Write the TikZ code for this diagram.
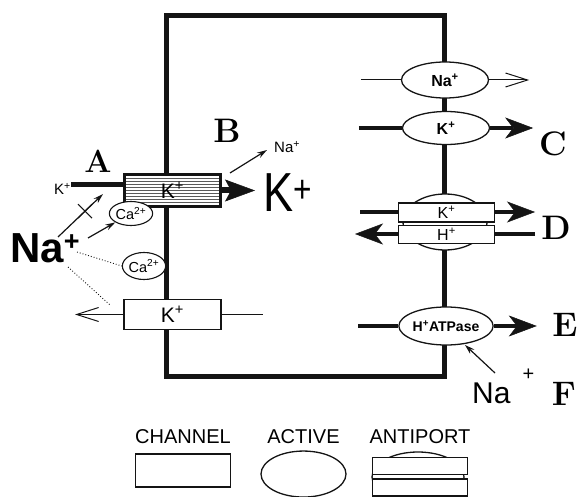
\documentclass[tikz,border=0pt]{standalone}
\usepackage{fontspec}
\setsansfont{Liberation Sans}
\usepackage{xcolor}
\usepackage{tikz}
\usetikzlibrary{arrows.meta,positioning,shapes.geometric,shapes.misc,patterns,calc}
\definecolor{mInk}{RGB}{20,20,20}
\definecolor{mHatch}{RGB}{90,90,90}
\newcommand{\fsz}[1]{\fontsize{#1}{#1}\selectfont}
\tikzset{
cellwall/.style={line width=5pt,draw=mInk},
chanbox/.style={rectangle,draw=mInk,line width=1.2pt,fill=white,inner sep=0pt,minimum width=97pt,minimum height=30pt,font=\sffamily\fsz{21}},
hatchbox/.style={chanbox,line width=3pt,minimum width=96pt,minimum height=32pt,preaction={fill=white},pattern=horizontal lines,pattern color=mHatch},
pumpell/.style={ellipse,draw=mInk,line width=1.3pt,fill=white,inner sep=0pt,minimum width=87pt,minimum height=35pt,font=\sffamily\bfseries\fsz{16}},
caell/.style={ellipse,draw=mInk,line width=1.1pt,fill=white,inner sep=0pt,minimum width=41pt,minimum height=24pt,font=\sffamily\fsz{14.5}},
antibox/.style={rectangle,draw=mInk,line width=1.1pt,fill=white,inner sep=0pt,minimum width=96pt,minimum height=18pt,font=\sffamily\fsz{16}},
flow/.style={line width=4.5pt,draw=mInk},
flux/.style={flow,-{Stealth[length=28pt,width=21pt,inset=8pt,line width=0.5pt]}},
bigflux/.style={line width=6pt,draw=mInk,-{Stealth[length=30pt,width=22pt,inset=6pt,line width=0.5pt]}},
thinflow/.style={line width=1pt,draw=mInk},
leak/.style={thinflow,-{Straight Barb[length=22pt,width=14pt]}},
nudge/.style={line width=1.2pt,draw=mInk,-{Stealth[length=10pt,width=6pt]}},
hint/.style={line width=0.9pt,dotted,draw=mInk},
letter/.style={font=\bfseries\fsz{34},inner sep=0pt,anchor=base},
ionlabel/.style={font=\sffamily,inner sep=0pt},
legendtext/.style={font=\sffamily\fsz{20},inner sep=0pt,anchor=base},
blockmark/.style={cross out,draw=mInk,line width=1pt,minimum size=13pt,inner sep=0pt}
}
\begin{document}
\begin{tikzpicture}[x=1pt,y=-1pt]
\useasboundingbox (0,0) rectangle (584,497);
% cell
\draw[cellwall] (166,15.5) rectangle (444.5,376);
% left side channels
\node[hatchbox] (chanA) at (172.5,190.5) {K\textsuperscript{+}};
\node[chanbox] (chanB) at (172.5,314.5) {K\textsuperscript{+}};
\node[caell] (caA) at (131,213.5) {Ca\textsuperscript{2+}};
\node[caell,minimum height=27pt] (caB) at (144,266) {Ca\textsuperscript{2+}};
\node[ionlabel,font=\sffamily\fsz{15},anchor=base west] (kA) at (54,195) {K\textsuperscript{+}};
\node[ionlabel,font=\sffamily\fsz{55},anchor=base west] (bigK) at (263,212) {\scalebox{0.82}[1]{K\textsuperscript{+}}};
\node[ionlabel,font=\sffamily\fsz{15},anchor=base west] (naB) at (274,153) {Na\textsuperscript{+}};
\node[ionlabel,font=\sffamily\bfseries\fsz{42},anchor=base west] (naA) at (10,262) {Na\raisebox{12pt}{\fsz{27}+}};
\node[letter,font=\bfseries\fsz{32}] at (98,173) {A};
\node[letter] at (227,143) {B};
\coordinate (naBtip) at (267,150);
\coordinate (xfrom) at (58,237);
\coordinate (xto) at (103,194);
\coordinate (caFrom) at (88,238);
\coordinate (dotFromA) at (77,252);
\coordinate (dotFromB) at (68,267);
\coordinate (dotTo) at (110,305);
\coordinate (kOutB) at (75,314.5);
\coordinate (kInB) at (263,314.5);
\draw[flow] ([yshift=5pt]kA.east) -- ([yshift=5pt]kA.east -| chanA.west);
\draw[bigflux] (chanA.east) -- ([xshift=-8pt]bigK.west |- chanA.east);
\draw[nudge] ([xshift=8pt]chanA.north east) -- (naBtip);
\draw[nudge] (xfrom) -- (xto);
\node[blockmark] at ($(xfrom)!0.6!(xto)$) {};
\draw[nudge] (caFrom) -- (caA.south west);
\draw[hint] (dotFromA) -- (caB.west);
\draw[hint] (dotFromB) -- (dotTo);
\draw[leak] (chanB.west) -- (kOutB);
\draw[thinflow] (chanB.east) -- (kInB);
% right side pumps
\node[pumpell,minimum height=36pt] (pumpNa) at (445,80) {Na\textsuperscript{+}};
\node[pumpell,minimum height=33pt] (pumpK) at (446,128) {K\textsuperscript{+}};
\node[pumpell,minimum width=84pt,minimum height=56pt] (antiD) at (445,222) {};
\node[antibox,minimum height=19pt] (antiK) at (446.5,212.5) {K\textsuperscript{+}};
\node[antibox,below=2pt of antiK] (antiH) {H\textsuperscript{+}};
\node[pumpell,minimum width=88pt,minimum height=38pt,font=\sffamily\bfseries\fsz{14}] (pumpH) at (446,326) {H\textsuperscript{+}ATPase};
\coordinate[left=40pt of pumpNa.west] (naPin);
\coordinate[right=40pt of pumpNa.east] (naPout);
\coordinate[left=43pt of pumpK.west] (kPin);
\coordinate[right=43pt of pumpK.east] (kPout);
\coordinate (dKin) at (360,212);
\coordinate (dKout) at (535,212);
\coordinate (dHout) at (355,234);
\coordinate (dHin) at (535,234);
\coordinate[left=40pt of pumpH.west] (hPin);
\coordinate[right=43pt of pumpH.east] (hPout);
\coordinate (naFfrom) at (495,373);
\draw[thinflow] (naPin) -- (pumpNa.west);
\draw[leak] (pumpNa.east) -- (naPout);
\draw[flow] (kPin) -- (pumpK.west);
\draw[flux] (pumpK.east) -- (kPout);
\draw[flow] (dKin) -- (antiK.west |- dKin);
\draw[flux] (antiK.east |- dKin) -- (dKout);
\draw[flux] (antiH.west |- dHout) -- (dHout);
\draw[flow] (dHin) -- (antiH.east |- dHin);
\draw[flow] (hPin) -- (pumpH.west);
\draw[flux] (pumpH.east) -- (hPout);
\node[ionlabel,font=\sffamily\fsz{30},anchor=base west] (naF) at (472,403) {Na\hspace{12pt}\raisebox{23pt}{\fsz{20}+}};
\draw[nudge,shorten >=1pt] (naFfrom) -- (pumpH.-45);
\node[letter] at (553,156) {C};
\node[letter] at (556,240) {D};
\node[letter] at (565,337) {E};
\node[letter] at (564,405) {F};
% legend
\node[legendtext] (legChan) at (183,443) {CHANNEL};
\node[legendtext] (legAct) at (303.5,443) {ACTIVE};
\node[legendtext] (legAnti) at (420,443) {ANTIPORT};
\node[chanbox,minimum width=95pt,minimum height=33pt,below=10pt of legChan] (keyChan) {};
\node[pumpell,minimum width=85pt,minimum height=46pt,below=7pt of legAct] (keyAct) {};
\node[pumpell,minimum width=92pt,minimum height=50pt] (keyAntiE) at (418,477) {};
\node[antibox,minimum width=95pt,minimum height=17pt,below=14pt of legAnti] (keyAntiA) {};
\node[antibox,minimum width=95pt,minimum height=17pt,below=3pt of keyAntiA] (keyAntiB) {};
\end{tikzpicture}
\end{document}
